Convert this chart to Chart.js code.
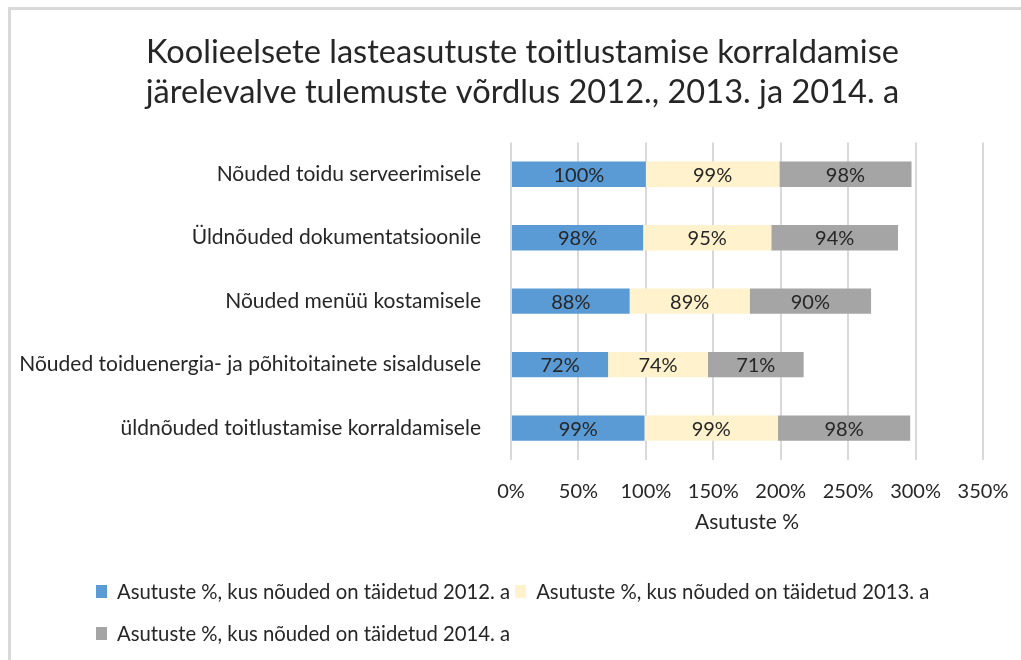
<!DOCTYPE html>
<html>
<head>
<meta charset="utf-8">
<script src="https://cdn.jsdelivr.net/npm/chart.js@4.4.1/dist/chart.umd.min.js"></script>
<style>
  body { margin: 0; background: #fff; font-family: Lato, sans-serif; }
  #wrap { position: relative; width: 1021px; height: 660px; overflow: hidden; }
  #frame { position: absolute; left: 8px; top: 7px; width: 1100px; height: 700px;
           border-left: 3px solid #d9d9d9; border-top: 3px solid #d9d9d9; }
  #myChart { position: absolute; left: 0; top: 0; }
  #legend { position: absolute; left: 96px; top: 578px; width: 900px;
            display: flex; flex-wrap: wrap; font-size: 20.3px; color: #262626; }
  .item { display: flex; align-items: center; height: 26px; margin-right: 5px; margin-bottom: 16px; }
  .box { width: 11px; height: 13px; margin-right: 10px; }
</style>
</head>
<body>
<div id="wrap">
  <div id="frame"></div>
  <canvas id="myChart" width="1021" height="660"></canvas>
  <div id="legend"></div>
</div>
<script>
const categories = [
  'Nõuded toidu serveerimisele',
  'Üldnõuded dokumentatsioonile',
  'Nõuded menüü kostamisele',
  'Nõuded toiduenergia- ja põhitoitainete sisaldusele',
  'üldnõuded toitlustamise korraldamisele'
];
const series_names = [
  'Asutuste %, kus nõuded on täidetud 2012. a',
  'Asutuste %, kus nõuded on täidetud 2013. a',
  'Asutuste %, kus nõuded on täidetud 2014. a'
];
const values_2012 = [100, 98, 88, 72, 99];
const values_2013 = [99, 95, 89, 74, 99];
const values_2014 = [98, 94, 90, 71, 98];
const colors = ['#5b9bd5', '#fff2cc', '#a5a5a5'];

const title_lines = [
  'Koolieelsete lasteasutuste toitlustamise korraldamise',
  'järelevalve tulemuste võrdlus 2012., 2013. ja 2014. a'
];
const axis_title = 'Asutuste %';

// labels in the middle of each bar piece
const barLabels = {
  id: 'barLabels',
  afterDatasetsDraw(chart) {
    const ctx = chart.ctx;
    ctx.save();
    ctx.font = '20px Lato';
    ctx.fillStyle = '#262626';
    ctx.textAlign = 'center';
    ctx.textBaseline = 'middle';
    chart.data.datasets.forEach(function(ds, i) {
      const meta = chart.getDatasetMeta(i);
      meta.data.forEach(function(bar, j) {
        const p = bar.getProps(['x', 'y', 'base'], true);
        ctx.fillText(ds.data[j] + '%', (p.x + p.base) / 2, p.y + 1);
      });
    });
    ctx.restore();
  }
};

// title sits a bit right of the canvas centre in the original
const titleShift = {
  id: 'titleShift',
  afterLayout(chart) {
    const t = chart.titleBlock;
    if (t) { t.left += 23; t.right += 23; }
  }
};

const allValues = [values_2012, values_2013, values_2014];
const data = {
  labels: categories,
  datasets: allValues.map(function(v, i) {
    return {
      label: series_names[i],
      data: v,
      backgroundColor: colors[i],
      borderWidth: 0,
      barPercentage: 0.8,
      categoryPercentage: 0.5
    };
  })
};

const config = {
  type: 'bar',
  data: data,
  plugins: [barLabels, titleShift],
  options: {
    indexAxis: 'y',
    responsive: false,
    animation: false,
    layout: { padding: { left: 16, right: 38, top: 33, bottom: 121 } },
    plugins: {
      legend: { display: false },
      tooltip: { enabled: false },
      title: {
        display: true,
        text: title_lines,
        color: '#262626',
        font: { family: 'Lato', size: 32.6, weight: 'normal', lineHeight: 1.22 },
        padding: { top: 0, bottom: 30 }
      }
    },
    scales: {
      x: {
        stacked: true,
        min: 0,
        max: 350,
        ticks: {
          stepSize: 50,
          color: '#262626',
          font: { family: 'Lato', size: 20 },
          padding: 3,
          callback: function(v) { return v + '%'; }
        },
        grid: { color: '#d9d9d9', lineWidth: 2, drawTicks: true, tickLength: 17, tickColor: 'rgba(0,0,0,0)' },
        border: { display: false },
        title: {
          display: true,
          text: axis_title,
          color: '#262626',
          font: { family: 'Lato', size: 21 },
          padding: { top: 3, bottom: 4 }
        }
      },
      y: {
        stacked: true,
        afterFit: function(scale) { scale.width = 495; },
        ticks: {
          color: '#262626',
          font: { family: 'Lato', size: 21 },
          padding: 22
        },
        grid: { display: false },
        border: { display: false }
      }
    }
  }
};

const myChart = new Chart(document.getElementById('myChart').getContext('2d'), config);

// legend under the chart
var legend = document.getElementById('legend');
series_names.forEach(function(name, i) {
  var item = document.createElement('div');
  item.className = 'item';
  var box = document.createElement('span');
  box.className = 'box';
  box.style.background = colors[i];
  item.appendChild(box);
  item.appendChild(document.createTextNode(name));
  legend.appendChild(item);
});
</script>
</body>
</html>
